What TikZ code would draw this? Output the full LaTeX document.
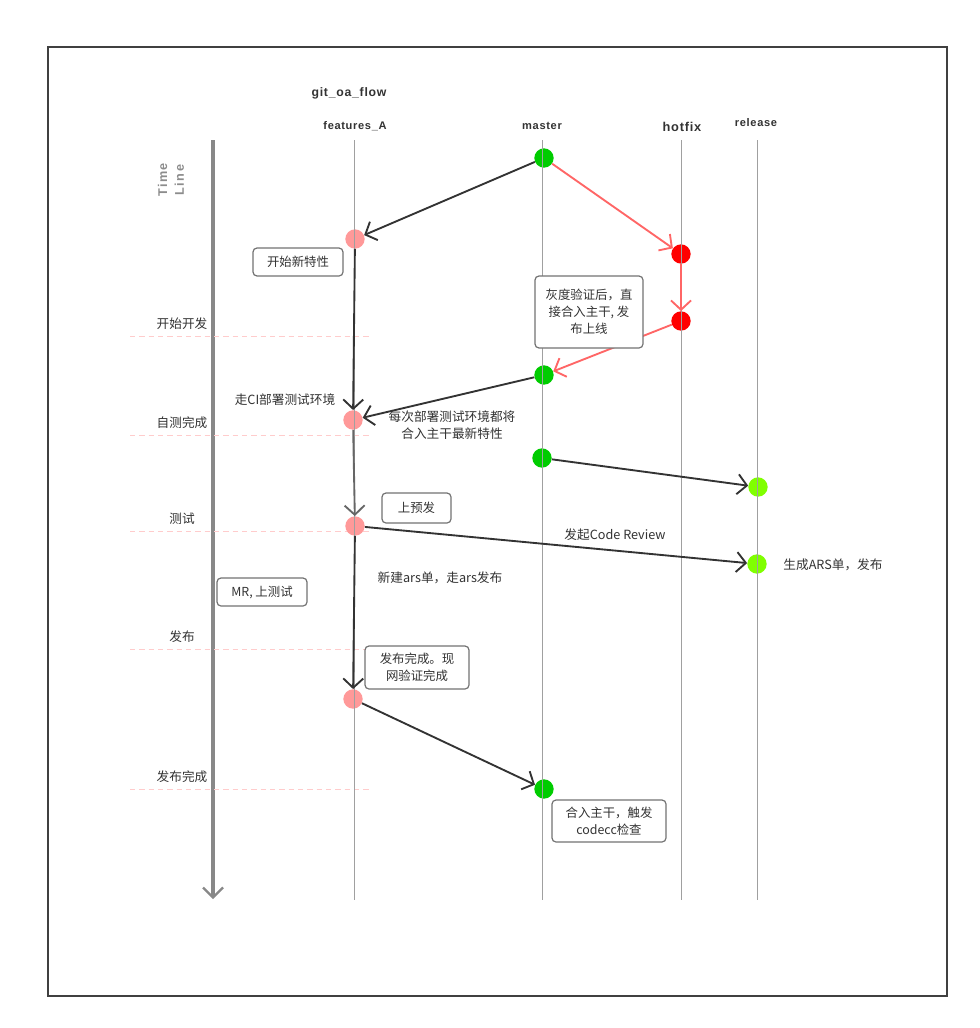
\documentclass[tikz,border=0pt]{standalone}
\usepackage{fontspec}
\setmainfont{Noto Sans CJK SC}
\newfontfamily\hdrfont{Liberation Sans}[LetterSpace=6]
\newfontfamily\tlfont{Liberation Sans}[LetterSpace=12]
\usetikzlibrary{arrows.meta}
\definecolor{mgreen}{HTML}{00CC00}
\definecolor{fpink}{HTML}{FF9999}
\definecolor{hred}{HTML}{FF0000}
\definecolor{rlime}{HTML}{80FF00}
\definecolor{salmon}{HTML}{FF6666}
\definecolor{darkline}{HTML}{333333}
\definecolor{lanegray}{HTML}{A0A0A0}
\definecolor{tlgray}{HTML}{888888}
\definecolor{dashpink}{HTML}{FFCCCC}
\definecolor{txt}{HTML}{333333}
\tikzset{
  lane/.style={draw=lanegray, line width=0.75pt},
  dot/.style={circle, minimum size=14.5pt, inner sep=0pt},
  arr/.style={draw=darkline, line width=1.4pt, -{Straight Barb[length=7pt,width=15pt,line width=1.4pt]}},
  harr/.style={draw=salmon, line width=1.4pt, -{Straight Barb[length=7pt,width=15pt,line width=1.4pt]}},
  box/.style={draw=black!55, rounded corners=3pt, line width=0.9pt, text=txt, align=center, inner sep=0pt, font=\fontsize{9.3}{12.75}\selectfont},
  lbl/.style={text=txt, inner sep=0pt, align=center, font=\fontsize{9.5}{12.75}\selectfont},
  hdr/.style={text=txt, inner sep=0pt, font=\hdrfont\bfseries\fontsize{8.3}{10}\selectfont},
  phase/.style={draw=dashpink, line width=0.75pt, dash pattern=on 4pt off 3pt},
}
\begin{document}
\begin{tikzpicture}[x=0.75pt,y=-0.75pt]
\useasboundingbox (0,0) rectangle (979,1028);
\fill[white] (0,0) rectangle (979,1028);
\node[draw=black!75, line width=1.1pt, minimum width=674.25pt, minimum height=711.75pt, inner sep=0pt] (frame) at (497.5,521.5) {};

% titles
\node[hdr, font=\hdrfont\bfseries\fontsize{9.2}{10}\selectfont] (title) at (349,93) {git\_oa\_flow};
\node[hdr] (hfeat) at (355,126) {features\_A};
\node[hdr] (hmaster) at (542,126) {master};
\node[hdr, font=\hdrfont\bfseries\fontsize{9.6}{10}\selectfont] (hhot) at (682,127) {hotfix};
\node[hdr] (hrel) at (756,123) {release};

% time line
\coordinate (tltop) at (213,140);
\coordinate (tlbot) at (213,899);
\draw[draw=tlgray, line width=2.4pt, -{Straight Barb[length=7.5pt,width=15pt,line width=1.6pt]}] (tltop) -- (tlbot);
\node[rotate=90, text=black!45, align=center, inner sep=0pt, font=\tlfont\bfseries\fontsize{9.5}{12.5}\selectfont] (tllabel) at (171,180) {Time\\Line};

% phase dashed lines and labels
\foreach \y/\t [count=\i] in {336/开始开发, 435/自测完成, 531/测试, 649/发布, 789/发布完成} {
  \coordinate (pa\i) at (130,\y);
  \coordinate (pb\i) at (370,\y);
  \draw[phase] (pa\i) -- (pb\i);
}
\node[lbl] (p1) at (182,324) {开始开发};
\node[lbl] (p2) at (182,423) {自测完成};
\node[lbl] (p3) at (182,519) {测试};
\node[lbl] (p4) at (182,637) {发布};
\node[lbl] (p5) at (182,777) {发布完成};

% commit dots
\node[dot, fill=mgreen] (m1) at (544,158) {};
\node[dot, fill=fpink] (f1) at (355,239) {};
\node[dot, fill=hred] (h1) at (681,254) {};
\node[dot, fill=hred] (h2) at (681,321) {};
\node[dot, fill=mgreen] (m2) at (544,375) {};
\node[dot, fill=fpink] (f2) at (353,420) {};
\node[dot, fill=mgreen] (m3) at (542,458) {};
\node[dot, fill=rlime] (r1) at (758,487) {};
\node[dot, fill=fpink] (f3) at (355,526) {};
\node[dot, fill=rlime] (r2) at (757,564) {};
\node[dot, fill=fpink] (f4) at (353,699) {};
\node[dot, fill=mgreen] (m4) at (544,789) {};

% lanes
\foreach \x/\n in {354/lf, 542/lm, 681/lh, 757/lr} {
  \coordinate (\n a) at (\x,140);
  \coordinate (\n b) at (\x,900);
  \draw[lane] (\n a) -- (\n b);
}

% arrows
\draw[arr] (m1) -- (f1);
\draw[harr] (m1) -- (h1);
\draw[harr] (h1) -- (h2);
\draw[harr] (h2) -- (m2);
\draw[arr] (m2) -- (f2);
\draw[arr] (f1) -- (f2);
\draw[arr, draw=black!60] (f2) -- (f3);
\draw[arr] (f3) -- (f4);
\draw[arr] (m3) -- (r1);
\draw[arr] (f3) -- (r2);
\draw[arr] (f4) -- (m4);

% boxes
\node[box, fill=white, minimum width=67.5pt, minimum height=21pt] (b1) at (298,262) {开始新特性};
\node[box, fill=white, minimum width=81pt, minimum height=54pt] (b2) at (589,312) {灰度验证后，直\\接合入主干, 发\\布上线};
\node[box, fill=white, minimum width=51.75pt, minimum height=22.5pt] (b3) at (416.5,508) {上预发};
\node[box, fill=white, minimum width=67.5pt, minimum height=21pt] (b4) at (262,592) {MR, 上测试};
\node[box, fill=white, minimum width=78pt, minimum height=32.25pt] (b5) at (417,667.5) {发布完成。现\\网验证完成};
\node[box, fill=white, minimum width=85.5pt, minimum height=31.5pt] (b6) at (609,821) {合入主干，触发\\codecc检查};

% free texts
\node[lbl] (t1) at (285,400) {走CI部署测试环境};
\node[lbl] (t2) at (452,425.5) {每次部署测试环境都将\\合入主干最新特性};
\node[lbl] (t3) at (615,535) {发起Code Review};
\node[lbl] (t4) at (833,565) {生成ARS单，发布};
\node[lbl] (t5) at (440,578) {新建ars单，走ars发布};
\end{tikzpicture}
\end{document}
